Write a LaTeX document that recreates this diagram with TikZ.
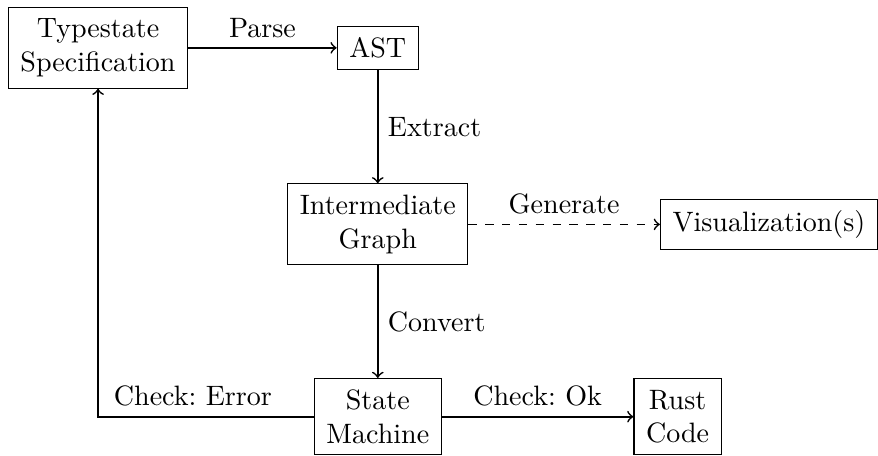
\documentclass[tikz,border=0pt]{standalone}
\usetikzlibrary{positioning}

\begin{document}
\frenchspacing
\begin{tikzpicture}[->,semithick,block/.style={rectangle, draw, thin,
        align=center, inner xsep=4.3pt, inner ysep=4pt}
        ]

        \node [block] (spec) {Typestate\\Specification} ;
        \node [block] (ast) [right = 1.86cm of spec] {AST} ;
        \node [block] (graph) [below = 1.42cm of ast] {Intermediate\\Graph} ;
        \node [block] (vis) [right = 2.40cm of graph] {Visualization(s)} ;
        \node [block] (machine) [below = 1.41cm of graph] {State\\Machine} ;
        \node [block] (rust) [right = 2.40cm of machine] {Rust\\Code} ;

        \path[draw, semithick]
        (spec) edge node [above] {Parse} (ast)
        (ast) edge node [right] {Extract} (graph)
        (graph) edge [dashed] node [above] {Generate} (vis)
        (graph) edge node [right] {Convert} (machine)
        (machine) edge node [above] {Check: Ok} (rust)
        ;
        \draw (machine.west) -| node [above, pos=0.28] {Check: Error} (spec.south) ;

        \useasboundingbox ([shift={(-2.8pt,2.5pt)}]spec.north west) rectangle ++(308.2pt,-159.7pt) ;
     \end{tikzpicture}
\end{document}
